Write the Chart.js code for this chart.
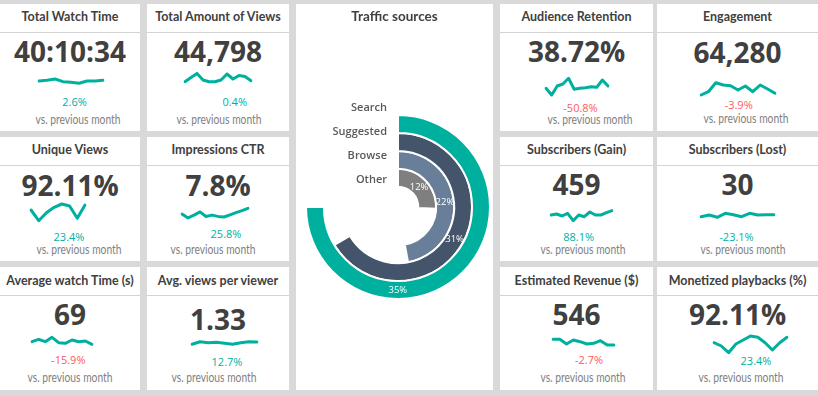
<!DOCTYPE html>
<html>
<head>
<meta charset="utf-8">
<script src="https://cdn.jsdelivr.net/npm/chart.js@4.4.0/dist/chart.umd.min.js"></script>
<style>
  html, body { margin: 0; padding: 0; }
  body { width: 818px; height: 396px; background: #d9d9d9; position: relative; overflow: hidden; font-family: 'Open Sans', sans-serif; }
  .card { position: absolute; background: #fff; }
  .divider { position: absolute; height: 1px; background: #d4d4d4; }
  .txt { position: absolute; white-space: nowrap; transform: translate(-50%, -50%); line-height: 1; }
  .title { font-family: Lato, sans-serif; font-weight: 700; font-size: 12.5px; color: #404040; }
  .value { font-weight: 700; font-size: 28px; color: #404040; }
  .pct { font-size: 11px; }
  .vs { font-family: Lato, sans-serif; font-size: 13px; color: #7f7f7f; transform: translate(-50%, -50%) scaleX(0.79); }
  canvas { position: absolute; }
</style>
</head>
<body>
<script>
// KPI data
const kpiTitles = ['Total Watch Time', 'Total Amount of Views', 'Audience Retention', 'Engagement',
                   'Unique Views', 'Impressions CTR', 'Subscribers (Gain)', 'Subscribers (Lost)',
                   'Average watch Time (s)', 'Avg. views per viewer', 'Estimated Revenue ($)', 'Monetized playbacks (%)'];
const kpiValues = ['40:10:34', '44,798', '38.72%', '64,280', '92.11%', '7.8%', '459', '30', '69', '1.33', '546', '92.11%'];
const kpiChanges = [2.6, 0.4, -50.8, -3.9, 23.4, 25.8, 88.1, -23.1, -15.9, 12.7, -2.7, 23.4];
const lowerIsBetter = [false, false, false, false, false, false, false, true, false, false, false, false];

// sparkline trends (relative levels)
const sparkValues = [
    [4, 4.7, 6, 3.3, 2.7, 1.7, 4, 4, 4.7],
    [3.3, 7.5, 11.6, 5, 3.3, 3.3, 5, 11, 6, 9.5, 8.5, 4.3],
    [10.7, 4, 13, 15, 20.7, 9.7, 10.7, 11.3, 12.3, 11.7, 19, 13],
    [4, 7.3, 16.3, 14, 13.3, 9, 13, 7.3, 14, 10, 5.7],
    [15, 4.3, 12.3, 17.7, 21, 19, 6.7, 20],
    [11, 7.1, 9.9, 13.1, 8.5, 9.9, 8.6, 8, 10.2, 12.4, 14.4, 16.7],
    [10, 11, 9, 11.7, 4.3, 10, 8.3, 13, 10, 10, 12.3, 14.3],
    [8.3, 10, 7.7, 11.7, 10.3, 8.3, 11.7, 10, 10.3, 10.3],
    [10.3, 12.7, 10.3, 14.7, 9.3, 8.7, 12, 10.3, 11, 7.7],
    [7.7, 10.3, 9.3, 9.7, 8.7, 7.7, 9.3, 10.3, 10],
    [12.7, 12.7, 8, 12, 10.3, 8, 8.7, 11.3, 7, 7],
    [14.3, 11, 4.3, 13, 17, 21, 19.7, 14.3, 7, 14.3, 19.7]
];

// traffic sources
const sourceNames = ['Search', 'Suggested', 'Browse', 'Other'];
const sourceShares = [35, 31, 22, 12];

const teal = '#00b09f';
const red = '#ff5a5a';
const ringColors = ['#00b09f', '#44546a', '#697f99', '#7f7f7f'];
const labelFrac = [0.667, 0.5, 0.5, 0.5];

// layout
const cardRects = [
    [0, 4, 140, 127], [147, 4, 142, 127], [500, 4, 153, 127], [657, 4, 161, 127],
    [0, 137, 140, 124], [147, 137, 142, 124], [500, 137, 153, 124], [657, 137, 161, 124],
    [0, 267, 140, 123], [147, 267, 142, 123], [500, 267, 153, 123], [657, 267, 161, 123]
];
const titleY = [17, 150, 281];
const dividerY = [32, 165, 295];
const valueY = [51, 51, 51, 51.5, 185, 185, 184, 184, 314, 318.5, 314, 314];
const pctPos = [[74.5, 101], [234.7, 101], [580.5, 106.7], [738.7, 104], [69, 236], [226, 232.7],
                [578.7, 236], [736.5, 236], [68.3, 359], [227, 360.7], [589, 359], [756, 360]];
const vsPos = [[78.3, 119], [219, 119], [589.7, 119], [745.8, 118], [78.7, 249], [212.8, 249],
               [582.5, 249], [743.3, 249], [69.5, 376.7], [213.7, 376.7], [582.5, 376.7], [740.8, 376.7]];
const sparkBox = [[39.3, 103.3, 58], [185, 251, 58], [545.7, 607.7, 72], [700.7, 775, 72],
                  [30.7, 85, 198], [181.7, 247.3, 198], [550.7, 611.7, 198], [700.7, 773.3, 198],
                  [32.3, 92.3, 325], [191.7, 256.7, 325], [553.3, 614.3, 325], [714.3, 787.7, 330]];

function addDiv(cls, text, x, y, color) {
    const d = document.createElement('div');
    d.className = cls;
    if (text !== null) d.textContent = text;
    d.style.left = x + 'px';
    d.style.top = y + 'px';
    if (color) d.style.color = color;
    document.body.appendChild(d);
    return d;
}

// build KPI cards
kpiTitles.forEach(function(title, i) {
    const [x, y, w, h] = cardRects[i];
    const row = Math.floor(i / 4);
    const cx = x + w / 2;

    const card = addDiv('card', null, x, y);
    card.style.width = w + 'px';
    card.style.height = h + 'px';

    const line = addDiv('divider', null, x, dividerY[row]);
    line.style.width = w + 'px';

    addDiv('txt title', title, cx, titleY[row]);
    addDiv('txt value', kpiValues[i], cx, valueY[i]);

    const change = kpiChanges[i];
    const good = lowerIsBetter[i] ? change <= 0 : change >= 0;
    addDiv('txt pct', change.toFixed(1) + '%', pctPos[i][0], pctPos[i][1], good ? teal : red);
    addDiv('txt vs', 'vs. previous month', vsPos[i][0], vsPos[i][1]);

    // sparkline
    const [x0, x1, top] = sparkBox[i];
    const cv = document.createElement('canvas');
    cv.width = Math.round(x1 - x0 + 6);
    cv.height = 30;
    cv.style.left = (x0 - 3) + 'px';
    cv.style.top = top + 'px';
    document.body.appendChild(cv);
    new Chart(cv, {
        type: 'line',
        data: {
            labels: sparkValues[i].map((_, k) => k),
            datasets: [{
                data: sparkValues[i],
                borderColor: teal,
                borderWidth: 3,
                pointRadius: 0,
                tension: 0,
                fill: false,
                borderCapStyle: 'round',
                borderJoinStyle: 'round'
            }]
        },
        options: {
            responsive: false,
            animation: false,
            events: [],
            layout: { padding: 3 },
            scales: {
                x: { display: false, offset: false },
                y: { display: false, min: 0, max: 24 }
            },
            plugins: { legend: { display: false }, tooltip: { enabled: false } }
        }
    });
});

// traffic sources panel
const panel = addDiv('card', null, 296, 4);
panel.style.width = '197px';
panel.style.height = '386px';

const ringCanvas = document.createElement('canvas');
ringCanvas.width = 197;
ringCanvas.height = 386;
ringCanvas.style.left = '296px';
ringCanvas.style.top = '4px';
document.body.appendChild(ringCanvas);

addDiv('txt title', 'Traffic sources', 394.5, 17).style.fontSize = '13.5px';

const maxShare = Math.max(...sourceShares);

// percentage and category labels drawn onto the rings
const ringLabels = {
    id: 'ringLabels',
    afterDatasetsDraw(chart) {
        const ctx = chart.ctx;
        const outer = chart.getDatasetMeta(0).controller.outerRadius;
        ctx.save();
        chart.data.datasets.forEach(function(ds, i) {
            const arc = chart.getDatasetMeta(i).data[0];
            const p = arc.getProps(['x', 'y', 'startAngle', 'endAngle', 'innerRadius', 'outerRadius'], true);
            const a = p.startAngle + (p.endAngle - p.startAngle) * labelFrac[i];
            const r = (p.innerRadius + p.outerRadius) / 2;
            ctx.fillStyle = '#ffffff';
            ctx.font = '9.5px "Open Sans"';
            ctx.textAlign = 'center';
            ctx.textBaseline = 'middle';
            ctx.fillText(sourceShares[i] + '%', p.x + Math.cos(a) * r, p.y + Math.sin(a) * r);

            ctx.fillStyle = '#595959';
            ctx.font = '600 11px "Open Sans"';
            ctx.textAlign = 'right';
            ctx.fillText(sourceNames[i], p.x - 11, p.y - outer - 7 + i * 24);
        });
        ctx.restore();
    }
};

new Chart(ringCanvas, {
    type: 'doughnut',
    data: {
        labels: ['share', 'rest'],
        datasets: sourceNames.map(function(name, i) {
            return {
                label: name,
                data: [sourceShares[i], maxShare - sourceShares[i]],
                backgroundColor: [ringColors[i], 'rgba(0,0,0,0)'],
                borderColor: ['#ffffff', 'rgba(0,0,0,0)'],
                borderWidth: [2, 0],
                hoverOffset: 0
            };
        })
    },
    options: {
        responsive: false,
        animation: false,
        events: [],
        circumference: 270,
        rotation: 0,
        radius: 92,
        cutout: '22%',
        layout: { padding: { left: 7, top: 20 } },
        plugins: { legend: { display: false }, tooltip: { enabled: false } }
    },
    plugins: [ringLabels]
});
</script>
</body>
</html>
